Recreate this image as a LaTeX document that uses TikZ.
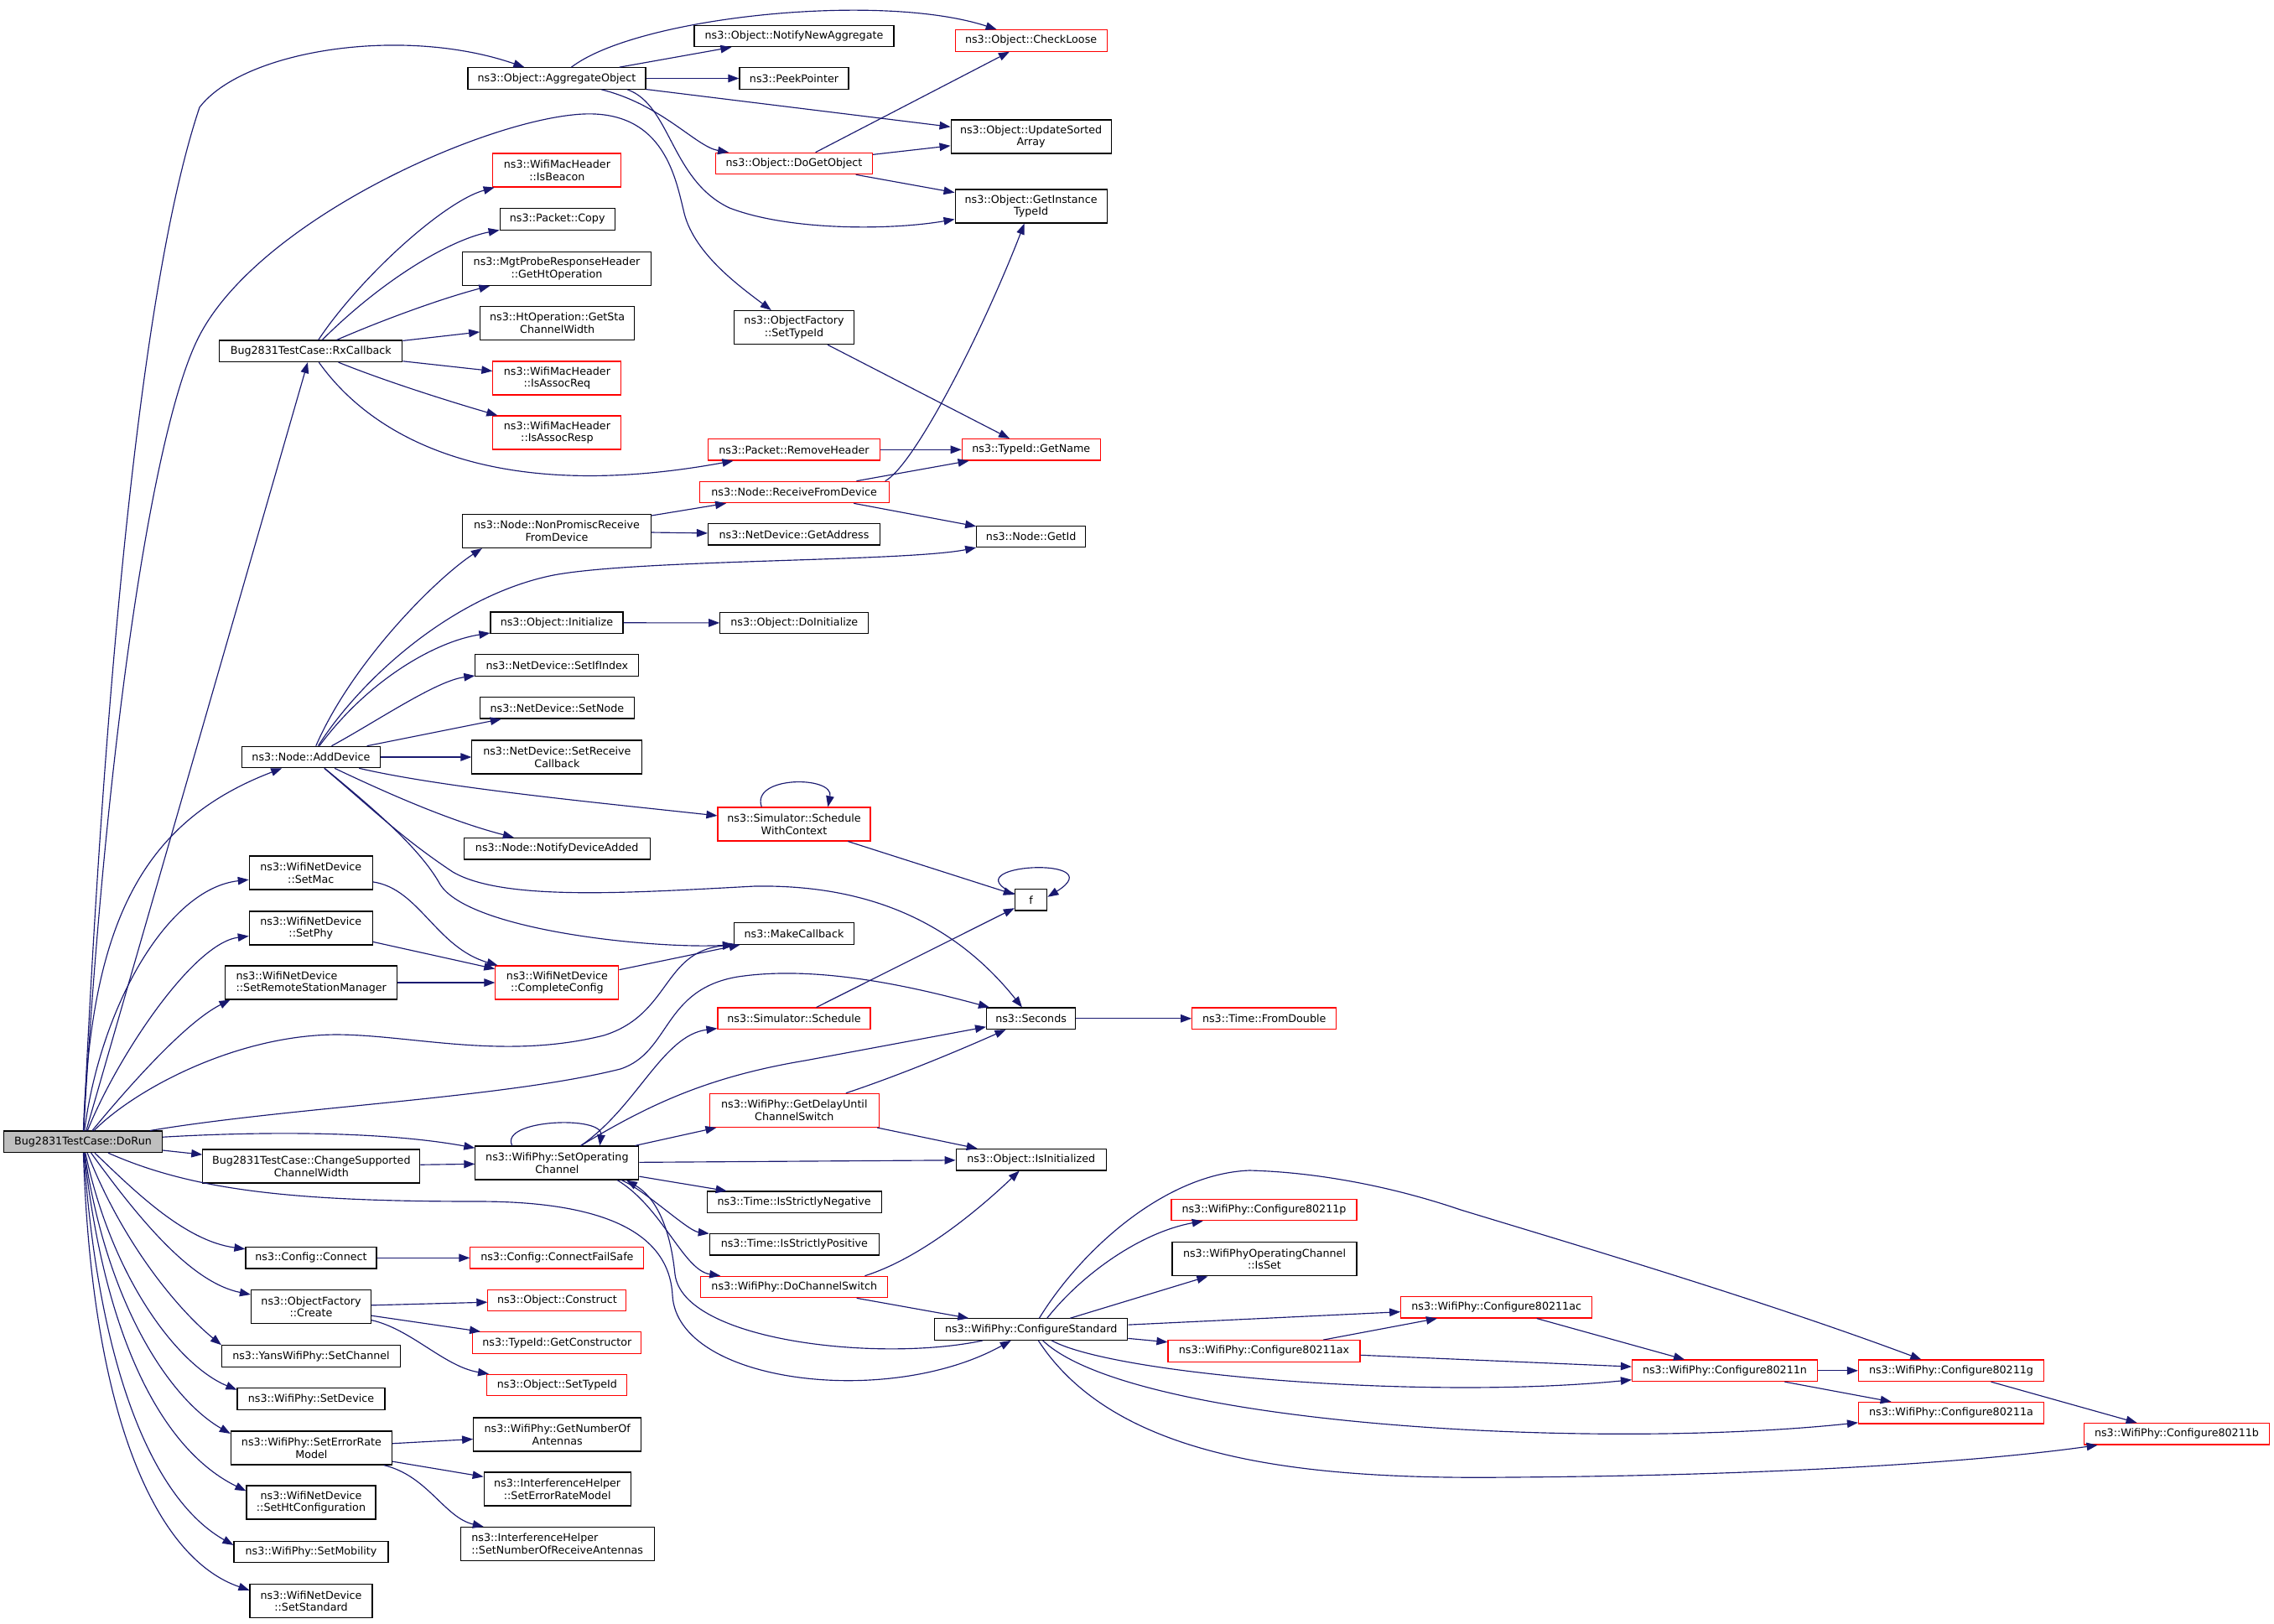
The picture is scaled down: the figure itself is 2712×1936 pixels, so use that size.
\documentclass[tikz,border=0pt]{standalone}
\usepackage{fontspec}
\setmainfont{DejaVu Sans}
\usetikzlibrary{arrows.meta}
\definecolor{edgeblue}{HTML}{191970}
\definecolor{nodegray}{HTML}{BFBFBF}
\begin{document}
\begin{tikzpicture}[x=1pt,y=-1pt,
  box/.style={draw=black, fill=white, line width=1.15pt, inner sep=0pt, align=center,
    font=\fontsize{12.7}{14.7}\selectfont, minimum height=25.5pt, text=black},
  tall/.style={minimum height=40pt},
  redb/.style={draw=red},
  ed/.style={draw=edgeblue, line width=1.15pt, -{Triangle[length=13pt,width=9.5pt]}}]
\fill[white] (0,0) rectangle (2712,1936);
\useasboundingbox (0,0) rectangle (2712,1936);

% column 1
\node[box, fill=nodegray, minimum width=189] (dorun) at (99,1361.8) {Bug2831TestCase::DoRun};
% column 2
\node[box, minimum width=218] (rx) at (370.8,418.8) {Bug2831TestCase::RxCallback};
\node[box, minimum width=165] (adddev) at (371,903) {ns3::Node::AddDevice};
\node[box, tall, minimum width=147] (setmac) at (370.8,1041) {ns3::WifiNetDevice\\::SetMac};
\node[box, tall, minimum width=147] (setphy) at (370.8,1107) {ns3::WifiNetDevice\\::SetPhy};
\node[box, tall, minimum width=205, align=left] (rsm) at (371.3,1172) {ns3::WifiNetDevice\\::SetRemoteStationManager};
\node[box, tall, minimum width=259] (chsup) at (371.3,1391) {Bug2831TestCase::ChangeSupported\\ChannelWidth};
\node[box, minimum width=156] (cfgconn) at (371,1500.3) {ns3::Config::Connect};
\node[box, tall, minimum width=143] (ofcreate) at (371,1558.7) {ns3::ObjectFactory\\::Create};
\node[box, minimum width=213] (yanschan) at (371,1617.5) {ns3::YansWifiPhy::SetChannel};
\node[box, minimum width=176] (setdev) at (371,1668.5) {ns3::WifiPhy::SetDevice};
\node[box, tall, minimum width=192] (seterr) at (371.4,1727) {ns3::WifiPhy::SetErrorRate\\Model};
\node[box, tall, minimum width=154] (setht) at (371,1792) {ns3::WifiNetDevice\\::SetHtConfiguration};
\node[box, minimum width=184] (setmob) at (371,1851) {ns3::WifiPhy::SetMobility};
\node[box, tall, minimum width=146] (setstd) at (371,1909.7) {ns3::WifiNetDevice\\::SetStandard};
% column 3
\node[box, minimum width=212] (agg) at (664,93.5) {ns3::Object::AggregateObject};
\node[box, redb, tall, minimum width=153] (isbeacon) at (664.4,203) {ns3::WifiMacHeader\\::IsBeacon};
\node[box, minimum width=137] (pcopy) at (664.7,261.4) {ns3::Packet::Copy};
\node[box, tall, minimum width=225] (mgt) at (664,320.4) {ns3::MgtProbeResponseHeader\\::GetHtOperation};
\node[box, tall, minimum width=184] (htop) at (664.7,385.5) {ns3::HtOperation::GetSta\\ChannelWidth};
\node[box, redb, tall, minimum width=153] (isareq) at (664.4,451) {ns3::WifiMacHeader\\::IsAssocReq};
\node[box, redb, tall, minimum width=153] (isaresp) at (664.4,516) {ns3::WifiMacHeader\\::IsAssocResp};
\node[box, tall, minimum width=225] (nonprom) at (664,633.5) {ns3::Node::NonPromiscReceive\\FromDevice};
\node[box, minimum width=158] (objinit) at (664,742.7) {ns3::Object::Initialize};
\node[box, minimum width=195] (setifx) at (664.4,793.4) {ns3::NetDevice::SetIfIndex};
\node[box, minimum width=184] (setnode) at (664.4,844.3) {ns3::NetDevice::SetNode};
\node[box, tall, minimum width=203] (setrecv) at (664.4,903) {ns3::NetDevice::SetReceive\\Callback};
\node[box, minimum width=222] (notifyda) at (664.2,1012.2) {ns3::Node::NotifyDeviceAdded};
\node[box, redb, tall, minimum width=147] (compcfg) at (664.4,1172) {ns3::WifiNetDevice\\::CompleteConfig};
\node[box, tall, minimum width=195] (setop) at (664.4,1387) {ns3::WifiPhy::SetOperating\\Channel};
\node[box, redb, minimum width=207] (connfs) at (664.4,1500.3) {ns3::Config::ConnectFailSafe};
\node[box, redb, minimum width=165] (construct) at (664.4,1551) {ns3::Object::Construct};
\node[box, redb, minimum width=201] (getctor) at (664.4,1601.5) {ns3::TypeId::GetConstructor};
\node[box, redb, minimum width=167] (objsettid) at (664.4,1652) {ns3::Object::SetTypeId};
\node[box, tall, minimum width=200] (getnant) at (664.7,1711) {ns3::WifiPhy::GetNumberOf\\Antennas};
\node[box, tall, minimum width=175] (iherr) at (664.7,1776) {ns3::InterferenceHelper\\::SetErrorRateModel};
\node[box, tall, minimum width=231, align=left] (ihrx) at (664.7,1841.5) {ns3::InterferenceHelper\\::SetNumberOfReceiveAntennas};
% column 4
\node[box, minimum width=238] (notifyna) at (947,43) {ns3::Object::NotifyNewAggregate};
\node[box, minimum width=130] (peek) at (947,93.5) {ns3::PeekPointer};
\node[box, redb, minimum width=187] (dogo) at (947,195) {ns3::Object::DoGetObject};
\node[box, tall, minimum width=143] (ofsettid) at (947,390.6) {ns3::ObjectFactory\\::SetTypeId};
\node[box, redb, minimum width=205] (rmhdr) at (947,536.3) {ns3::Packet::RemoveHeader};
\node[box, redb, minimum width=226] (rfd) at (947.2,587) {ns3::Node::ReceiveFromDevice};
\node[box, minimum width=205] (getaddr) at (947,637.3) {ns3::NetDevice::GetAddress};
\node[box, minimum width=177] (doinit) at (947.3,743) {ns3::Object::DoInitialize};
\node[box, redb, tall, minimum width=182] (schedctx) at (947,983) {ns3::Simulator::Schedule\\WithContext};
\node[box, minimum width=143] (mkcb) at (947,1113.5) {ns3::MakeCallback};
\node[box, redb, minimum width=182] (sched) at (947,1214.8) {ns3::Simulator::Schedule};
\node[box, redb, tall, minimum width=202] (getdelay) at (947.3,1324.4) {ns3::WifiPhy::GetDelayUntil\\ChannelSwitch};
\node[box, minimum width=208] (isneg) at (947.2,1433.8) {ns3::Time::IsStrictlyNegative};
\node[box, minimum width=202] (ispos) at (947.3,1484.3) {ns3::Time::IsStrictlyPositive};
\node[box, redb, minimum width=223] (dochsw) at (947.3,1535) {ns3::WifiPhy::DoChannelSwitch};
% column 5
\node[box, redb, minimum width=181] (checkloose) at (1229.6,48.4) {ns3::Object::CheckLoose};
\node[box, tall, minimum width=191] (upd) at (1229.6,163) {ns3::Object::UpdateSorted\\Array};
\node[box, tall, minimum width=181] (getinst) at (1229.6,246) {ns3::Object::GetInstance\\TypeId};
\node[box, redb, minimum width=165] (getname) at (1229.8,536.3) {ns3::TypeId::GetName};
\node[box, minimum width=130] (getid) at (1229.7,640) {ns3::Node::GetId};
\node[box, minimum width=38.5] (f) at (1229.6,1073.3) {f};
\node[box, minimum width=106] (seconds) at (1229.6,1214.8) {ns3::Seconds};
\node[box, minimum width=179] (isinit) at (1229.7,1383.2) {ns3::Object::IsInitialized};
\node[box, minimum width=230] (cfgstd) at (1229.7,1585.6) {ns3::WifiPhy::ConfigureStandard};
% column 6+
\node[box, redb, minimum width=172] (fromdbl) at (1507.7,1214.8) {ns3::Time::FromDouble};
\node[box, redb, minimum width=221] (c11p) at (1507.5,1443) {ns3::WifiPhy::Configure80211p};
\node[box, tall, minimum width=220] (isset) at (1508,1501.8) {ns3::WifiPhyOperatingChannel\\::IsSet};
\node[box, redb, minimum width=229] (c11ax) at (1507.5,1611.4) {ns3::WifiPhy::Configure80211ax};
\node[box, redb, minimum width=228] (c11ac) at (1784.7,1559.2) {ns3::WifiPhy::Configure80211ac};
\node[box, redb, minimum width=221] (c11n) at (2057,1634.8) {ns3::WifiPhy::Configure80211n};
\node[box, redb, minimum width=221] (c11g) at (2327,1634.8) {ns3::WifiPhy::Configure80211g};
\node[box, redb, minimum width=221] (c11a) at (2327,1685.2) {ns3::WifiPhy::Configure80211a};
\node[box, redb, minimum width=221] (c11b) at (2596,1710.3) {ns3::WifiPhy::Configure80211b};

% ---- edges from DoRun
\draw[ed] (dorun) .. controls (125,800) and (170,330) .. (238,128) .. controls (290,60) and (480,30) .. (agg);
\draw[ed] (dorun) .. controls (125,900) and (180,520) .. (235,406) .. controls (300,270) and (560,150) .. (683,137) .. controls (790,125) and (805,210) .. (815,250) .. controls (825,300) and (880,340) .. (ofsettid);
\draw[ed] (dorun) -- (rx);
\draw[ed] (dorun) .. controls (108,1100) and (170,980) .. (adddev);
\draw[ed] (dorun) .. controls (120,1200) and (200,1060) .. (setmac);
\draw[ed] (dorun) .. controls (140,1260) and (230,1125) .. (setphy);
\draw[ed] (dorun) .. controls (150,1300) and (220,1220) .. (rsm.192);
\draw[ed] (dorun) .. controls (160,1300) and (280,1235) .. (400,1234) .. controls (490,1234) and (600,1265) .. (720,1235) .. controls (800,1210) and (790,1135) .. (mkcb.south west);
\draw[ed] (dorun) .. controls (350,1320) and (600,1310) .. (740,1275) .. controls (800,1255) and (790,1180) .. (880,1165) .. controls (980,1150) and (1100,1180) .. (seconds);
\draw[ed] (dorun) -- (chsup);
\draw[ed] (dorun) .. controls (300,1350) and (450,1348) .. (setop);
\draw[ed] (dorun) .. controls (230,1420) and (350,1433) .. (570,1433) .. controls (720,1433) and (798,1470) .. (802,1545) .. controls (808,1650) and (1060,1680) .. (cfgstd);
\draw[ed] (dorun) .. controls (160,1420) and (220,1480) .. (cfgconn);
\draw[ed] (dorun) .. controls (170,1460) and (230,1530) .. (ofcreate);
\draw[ed] (dorun) .. controls (145,1480) and (210,1560) .. (yanschan.north west);
\draw[ed] (dorun) .. controls (135,1530) and (215,1630) .. (setdev.173);
\draw[ed] (dorun) .. controls (128,1560) and (205,1670) .. (seterr.170);
\draw[ed] (dorun) .. controls (125,1600) and (195,1730) .. (setht.170);
\draw[ed] (dorun) .. controls (118,1640) and (185,1790) .. (setmob.175);
\draw[ed] (dorun) .. controls (110,1700) and (190,1860) .. (setstd.170);

% ---- RxCallback
\draw[ed] (rx) .. controls (430,330) and (530,240) .. (isbeacon);
\draw[ed] (rx) .. controls (460,330) and (540,285) .. (pcopy);
\draw[ed] (rx) .. controls (460,380) and (530,355) .. (mgt);
\draw[ed] (rx) -- (htop);
\draw[ed] (rx) -- (isareq);
\draw[ed] (rx) .. controls (460,455) and (540,480) .. (isaresp);
\draw[ed] (rx) .. controls (450,530) and (600,600) .. (rmhdr);

% ---- AggregateObject
\draw[ed] (agg) -- (notifyna);
\draw[ed] (agg) .. controls (760,20) and (1050,-10) .. (checkloose);
\draw[ed] (agg) -- (peek);
\draw[ed] (agg) -- (upd);
\draw[ed] (agg) .. controls (790,125) and (830,175) .. (dogo);
\draw[ed] (agg.-9) .. controls (800,125) and (800,215) .. (870,248) .. controls (940,275) and (1060,275) .. (getinst);
\draw[ed] (dogo) -- (checkloose);
\draw[ed] (dogo) -- (upd);
\draw[ed] (dogo) -- (getinst);

\draw[ed] (ofsettid) -- (getname);
\draw[ed] (rmhdr) -- (getname);
\draw[ed] (rfd) -- (getname);
\draw[ed] (rfd.7) .. controls (1090,555) and (1170,400) .. (getinst);
\draw[ed] (rfd) -- (getid);
\draw[ed] (nonprom) -- (rfd);
\draw[ed] (nonprom) -- (getaddr);

% ---- AddDevice
\draw[ed] (adddev) .. controls (420,790) and (520,690) .. (nonprom.193);
\draw[ed] (adddev) .. controls (430,810) and (540,710) .. (660,686) .. controls (760,667) and (1080,670) .. (getid);
\draw[ed] (adddev) .. controls (440,810) and (520,765) .. (objinit);
\draw[ed] (adddev) .. controls (450,860) and (520,812) .. (setifx);
\draw[ed] (adddev) -- (setnode);
\draw[ed] (adddev) -- (setrecv);
\draw[ed] (adddev) .. controls (530,940) and (720,958) .. (schedctx);
\draw[ed] (adddev) .. controls (470,950) and (540,980) .. (notifyda);
\draw[ed] (adddev) .. controls (450,970) and (480,1000) .. (540,1040) .. controls (600,1075) and (750,1065) .. (900,1057) .. controls (1020,1055) and (1130,1090) .. (seconds);
\draw[ed] (adddev) .. controls (440,960) and (500,1010) .. (525,1055) .. controls (560,1110) and (780,1132) .. (mkcb.south west);

\draw[ed] (objinit) -- (doinit);
\draw[ed] (schedctx.152) .. controls (895,925) and (995,925) .. (schedctx.27);
\draw[ed] (schedctx) -- (f);
\draw[ed] (f.160) .. controls (1130,1030) and (1330,1020) .. (f.10);
\draw[ed] (sched) -- (f);
\draw[ed] (seconds) -- (fromdbl);

% ---- WifiNetDevice setters
\draw[ed] (setmac) .. controls (500,1060) and (520,1130) .. (compcfg);
\draw[ed] (setphy) -- (compcfg);
\draw[ed] (rsm) -- (compcfg);
\draw[ed] (compcfg) -- (mkcb);

% ---- SetOperatingChannel
\draw[ed] (chsup) -- (setop);
\draw[ed] (setop.159) .. controls (595,1335) and (720,1330) .. (setop.22);
\draw[ed] (setop.36) .. controls (760,1320) and (790,1235) .. (sched);
\draw[ed] (setop.36) .. controls (770,1320) and (840,1285) .. (960,1265) -- (seconds);
\draw[ed] (setop) -- (getdelay);
\draw[ed] (setop) -- (isinit);
\draw[ed] (setop) -- (isneg);
\draw[ed] (setop.-15) .. controls (770,1420) and (820,1468) .. (ispos);
\draw[ed] (setop.-16) .. controls (790,1440) and (815,1515) .. (dochsw);
\draw[ed] (dochsw.9) .. controls (1100,1500) and (1170,1440) .. (isinit);
\draw[ed] (dochsw) -- (cfgstd);
\draw[ed] (getdelay) .. controls (1080,1280) and (1150,1250) .. (seconds);
\draw[ed] (getdelay) -- (isinit);

% ---- ConfigureStandard
\draw[ed] (cfgstd.193) .. controls (1050,1625) and (815,1600) .. (805,1520) .. controls (800,1470) and (785,1430) .. (setop.-14);
\draw[ed] (cfgstd.35) .. controls (1290,1520) and (1360,1470) .. (c11p);
\draw[ed] (cfgstd.16) -- (isset);
\draw[ed] (cfgstd.54) .. controls (1290,1490) and (1390,1400) .. (1490,1396) .. controls (1570,1398) and (1660,1415) .. (1742,1443) .. controls (1880,1485) and (2100,1550) .. (c11g);
\draw[ed] (cfgstd) -- (c11ac);
\draw[ed] (cfgstd) -- (c11ax);
\draw[ed] (c11ax) -- (c11ac);
\draw[ed] (c11ax) -- (c11n);
\draw[ed] (c11ac) -- (c11n);
\draw[ed] (cfgstd) .. controls (1330,1640) and (1700,1670) .. (c11n);
\draw[ed] (cfgstd) .. controls (1350,1700) and (1900,1730) .. (c11a);
\draw[ed] (cfgstd) .. controls (1330,1740) and (1550,1765) .. (1800,1762) .. controls (2100,1760) and (2350,1745) .. (c11b);
\draw[ed] (c11n) -- (c11g);
\draw[ed] (c11n) -- (c11a);
\draw[ed] (c11g) -- (c11b);

% ---- misc
\draw[ed] (cfgconn) -- (connfs);
\draw[ed] (ofcreate) -- (construct);
\draw[ed] (ofcreate) -- (getctor);
\draw[ed] (ofcreate) .. controls (490,1585) and (530,1630) .. (objsettid);
\draw[ed] (seterr) -- (getnant);
\draw[ed] (seterr) -- (iherr);
\draw[ed] (seterr) .. controls (510,1760) and (530,1810) .. (ihrx);
\end{tikzpicture}
\end{document}
